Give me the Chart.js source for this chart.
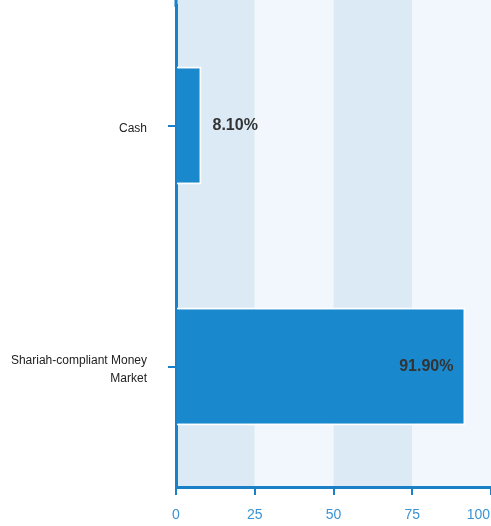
<!DOCTYPE html>
<html>
<head>
<meta charset="utf-8">
<script src="https://cdn.jsdelivr.net/npm/chart.js@4/dist/chart.umd.min.js"></script>
<style>
  html, body { margin: 0; padding: 0; background: #fff; overflow: hidden; }
  #wrap { position: relative; width: 491px; height: 526px; }
</style>
</head>
<body>
<div id="wrap"><canvas id="alloc_chart"></canvas></div>
<script>
// Asset allocation (horizontal bar)
const categories = ["Cash", ["Shariah-compliant Money", "Market"]];
const values     = [8.1, 91.9];
const xTicks     = [0, 25, 50, 75, 100];

const BAR_COLOR   = "#1a88cc";
const AXIS_COLOR  = "#1a80c8";
const TICK_TEXT   = "#3a94d4";
const BAND_DARK   = "#dbeaf5";
const BAND_LIGHT  = "#f1f7fc";

Chart.defaults.font.family = "'Liberation Sans', Arial, sans-serif";

// alternating vertical bands behind the bars
const bandsPlugin = {
  id: "bands",
  beforeDraw(chart) {
    const { ctx, chartArea, scales: { x } } = chart;
    ctx.save();
    for (let i = 0; i < xTicks.length - 1; i++) {
      const x0 = x.getPixelForValue(xTicks[i]);
      const x1 = x.getPixelForValue(xTicks[i + 1]);
      ctx.fillStyle = i % 2 === 0 ? BAND_DARK : BAND_LIGHT;
      ctx.fillRect(x0, 0, x1 - x0, chartArea.bottom);
    }
    ctx.restore();
  },
  afterDraw(chart) {
    const { ctx, chartArea, scales: { x } } = chart;
    ctx.save();
    // y axis line runs up to the top edge
    ctx.strokeStyle = AXIS_COLOR;
    ctx.lineWidth = 3;
    ctx.beginPath();
    ctx.moveTo(chartArea.left, 0);
    ctx.lineTo(chartArea.left, chartArea.top + 2);
    ctx.stroke();
    // x tick labels, last one kept inside the canvas
    ctx.font = "14px 'Liberation Sans', Arial, sans-serif";
    ctx.fillStyle = TICK_TEXT;
    ctx.textBaseline = "middle";
    xTicks.forEach((v) => {
      const px = x.getPixelForValue(v);
      const w = ctx.measureText(String(v)).width;
      if (px + w / 2 > chart.width) {
        ctx.textAlign = "right";
        ctx.fillText(String(v), chart.width - 1, chartArea.bottom + 28);
      } else {
        ctx.textAlign = "center";
        ctx.fillText(String(v), px, chartArea.bottom + 28);
      }
    });
    ctx.restore();
  },
};

// value labels at the bar ends
const valueLabels = {
  id: "valueLabels",
  afterDatasetsDraw(chart) {
    const { ctx } = chart;
    const meta = chart.getDatasetMeta(0);
    ctx.save();
    ctx.font = "bold 16px 'Liberation Sans', Arial, sans-serif";
    ctx.fillStyle = "#333333";
    ctx.textBaseline = "middle";
    meta.data.forEach((bar, i) => {
      const txt = values[i].toFixed(2) + "%";
      if (values[i] < 50) {
        ctx.textAlign = "left";
        ctx.fillText(txt, bar.x + 11, bar.y);
      } else {
        ctx.textAlign = "right";
        ctx.fillText(txt, bar.x - 12, bar.y);
      }
    });
    ctx.restore();
  },
};

new Chart(document.getElementById("alloc_chart"), {
  type: "bar",
  data: {
    labels: categories,
    datasets: [{
      data: values,
      backgroundColor: BAR_COLOR,
      borderColor: "#ffffff",
      borderWidth: 2,
      categoryPercentage: 1,
      barPercentage: 0.49,
    }],
  },
  options: {
    indexAxis: "y",
    responsive: true,
    maintainAspectRatio: false,
    animation: false,
    layout: { padding: { top: 5, right: 0, bottom: 0, left: 0 } },
    plugins: { legend: { display: false }, tooltip: { enabled: false } },
    scales: {
      x: {
        min: 0,
        max: 100,
        ticks: { display: false, stepSize: 25 },
        grid: { drawOnChartArea: false, drawTicks: true, tickLength: 8, color: AXIS_COLOR, lineWidth: 2 },
        border: { display: true, color: AXIS_COLOR, width: 3 },
        afterFit: (s) => { s.height = 39; },
      },
      y: {
        ticks: { color: "#222222", font: { size: 12, lineHeight: 1.5 }, padding: 21, labelOffset: 3 },
        grid: { offset: false, drawOnChartArea: false, drawTicks: true, tickLength: 8, color: AXIS_COLOR, lineWidth: 2 },
        border: { display: true, color: AXIS_COLOR, width: 3 },
        afterFit: (s) => { s.width = 176; s.paddingTop = 0; s.paddingBottom = 0; },
      },
    },
  },
  plugins: [bandsPlugin, valueLabels],
});
</script>
</body>
</html>
